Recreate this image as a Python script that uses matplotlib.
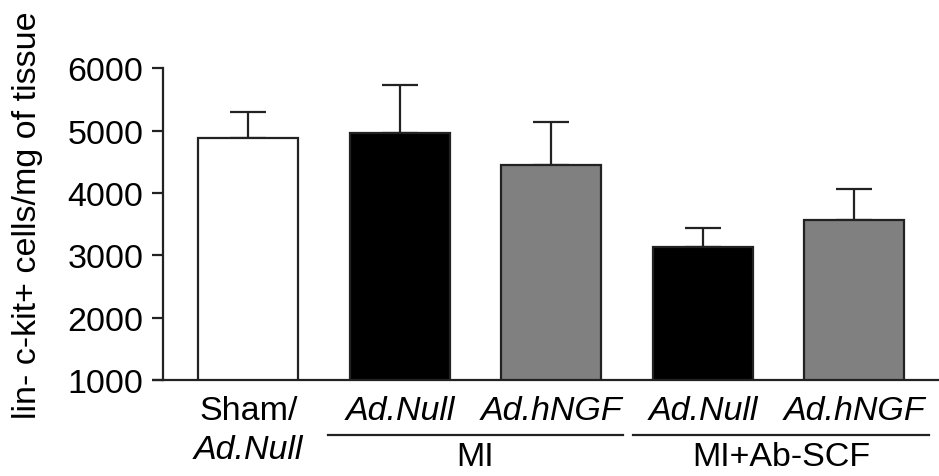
import matplotlib
matplotlib.use("Agg")
import matplotlib.pyplot as plt
import matplotlib.transforms as mtransforms

plt.rcParams['font.family'] = ['Liberation Sans', 'DejaVu Sans']

groups = ["Sham", "MI Ad.Null", "MI Ad.hNGF", "MI+Ab-SCF Ad.Null", "MI+Ab-SCF Ad.hNGF"]
values = [4880, 4970, 4455, 3130, 3570]
errors = [420, 755, 685, 310, 500]
colors = ["white", "black", "#808080", "black", "#808080"]
yticks = [1000, 2000, 3000, 4000, 5000, 6000]
ylabel = "lin- c-kit+ cells/mg of tissue"

FS = 24.5
fig = plt.figure(figsize=(9.39, 4.77), dpi=100)
ax = fig.add_axes([163/939, 1-381/477, 1-163/939, (381-69.3)/477])

x = list(range(len(values)))
ax.bar(x, [v - 1000 for v in values], bottom=1000, width=0.66, color=colors,
       edgecolor="#222222", linewidth=1.6, zorder=3)
ax.errorbar(x, values, yerr=[[0]*len(errors), errors], fmt="none",
            ecolor="#222222", elinewidth=1.6, capsize=13, capthick=1.6, zorder=2)

ax.set_xlim(-0.564, 4.558)
ax.set_ylim(1000, 6000)
ax.set_yticks(yticks)
ax.set_yticklabels([str(t) for t in yticks], fontsize=FS)
ax.set_xticks([])
for s in ["top", "right"]:
    ax.spines[s].set_visible(False)
for s in ["left", "bottom"]:
    ax.spines[s].set_linewidth(1.6)
    ax.spines[s].set_color("#222222")
ax.tick_params(axis="y", length=8, width=1.6, color="#222222", pad=6)
fig.text(27.5/939, 1-215/477, ylabel, rotation=90, ha="center", va="center", fontsize=FS)

# extend baseline to the left like the reference
trans = mtransforms.blended_transform_factory(ax.transData, fig.transFigure)
ax.plot([-0.564 - 11/151.5, -0.564], [1000, 1000], color="#222222", lw=1.6,
        clip_on=False, solid_capstyle="butt")

y1 = 1 - 411/477
y2 = 1 - 451/477
ax.text(0, y1, "Sham/", transform=trans, ha="center", va="center", fontsize=FS)
ax.text(0, y2, "Ad.Null", transform=trans, ha="center", va="center", fontsize=FS, style="italic")
sub = ["Ad.Null", "Ad.hNGF", "Ad.Null", "Ad.hNGF"]
for i, s in enumerate(sub, start=1):
    ax.text(i, y1, s, transform=trans, ha="center", va="center", fontsize=FS, style="italic")

yl = 1 - 435.7/477
for (a, b), lab in [((1 - 0.475, 2 + 0.472), "MI"), ((3 - 0.462, 4 + 0.49), "MI+Ab-SCF")]:
    ax.plot([a, b], [yl, yl], transform=trans, color="#222222", lw=1.6, clip_on=False)
    ax.text((a + b) / 2, 1 - 458/477, lab, transform=trans, ha="center", va="center", fontsize=FS)

fig.savefig("out.png", dpi=100)
